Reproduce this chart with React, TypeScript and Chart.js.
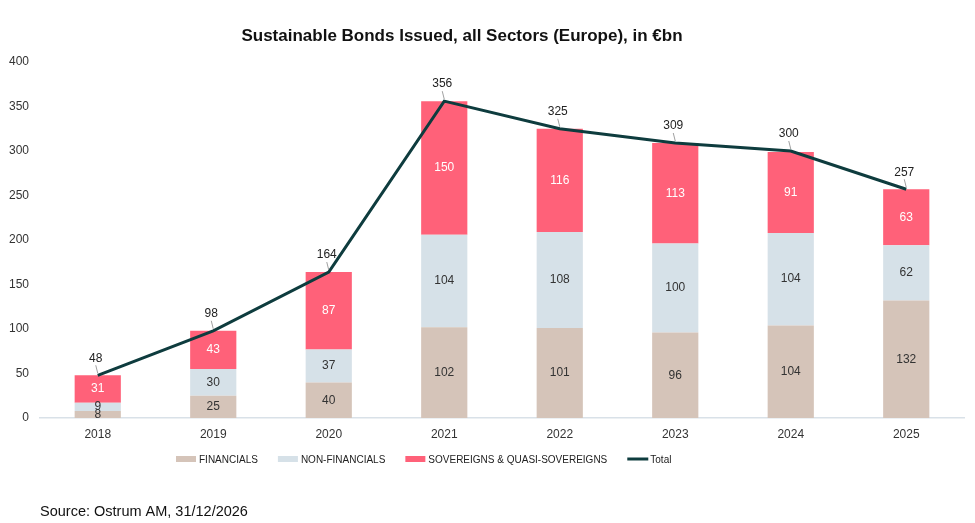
import React, { useEffect, useRef } from "react";
import { Chart, registerables } from "chart.js";

Chart.register(...registerables);

const years = ["2018", "2019", "2020", "2021", "2022", "2023", "2024", "2025"];
const financials = [8, 25, 40, 102, 101, 96, 104, 132];
const nonFinancials = [9, 30, 37, 104, 108, 100, 104, 62];
const sovereigns = [31, 43, 87, 150, 116, 113, 91, 63];
const totals = [48, 98, 164, 356, 325, 309, 300, 257];
const yTicks = [0, 50, 100, 150, 200, 250, 300, 350, 400];

const titleText = "Sustainable Bonds Issued, all Sectors (Europe), in €bn";
const sourceText = "Source: Ostrum AM, 31/12/2026";

const FONT = "'Liberation Sans', Arial, sans-serif";
const C_FIN = "#d5c4b9";
const C_NONFIN = "#d6e1e8";
const C_SOV = "#ff6179";
const C_TOTAL = "#0e3c3e";

const decorPlugin = {
  id: "decor",
  afterDatasetsDraw(chart: any) {
    const ctx = chart.ctx;
    ctx.save();
    // values inside the stacked segments
    ctx.font = `12px ${FONT}`;
    ctx.textAlign = "center";
    ctx.textBaseline = "middle";
    [0, 1, 2].forEach((di) => {
      const meta = chart.getDatasetMeta(di);
      const data = chart.data.datasets[di].data as number[];
      meta.data.forEach((bar: any, i: number) => {
        const mid = (bar.y + bar.base) / 2;
        ctx.fillStyle = di === 2 ? "#ffffff" : "#333333";
        ctx.fillText(String(data[i]), bar.x, mid);
      });
    });
    // totals above the line with short leader lines
    const lineMeta = chart.getDatasetMeta(3);
    lineMeta.data.forEach((pt: any, i: number) => {
      const ly = pt.y - 17;
      ctx.strokeStyle = "#a0a0a0";
      ctx.lineWidth = 1;
      ctx.beginPath();
      ctx.moveTo(pt.x - 2, ly + 7);
      ctx.lineTo(pt.x, pt.y - 2);
      ctx.stroke();
      ctx.fillStyle = "#222222";
      ctx.fillText(String(totals[i]), pt.x - 2, ly);
    });
    ctx.restore();
  },
  afterDraw(chart: any) {
    const ctx = chart.ctx;
    ctx.save();
    // title
    ctx.font = `bold 17px ${FONT}`;
    ctx.fillStyle = "#111111";
    ctx.textAlign = "center";
    ctx.textBaseline = "middle";
    ctx.fillText(titleText, 462, 36);

    // legend
    ctx.font = `10px ${FONT}`;
    ctx.textAlign = "left";
    let x = 176;
    const y = 459;
    chart.data.datasets.forEach((ds: any, di: number) => {
      if (di < 3) {
        ctx.fillStyle = ds.backgroundColor;
        ctx.fillRect(x, y - 3, 20, 6);
      } else {
        ctx.strokeStyle = ds.borderColor;
        ctx.lineWidth = 3;
        ctx.beginPath();
        ctx.moveTo(x, y);
        ctx.lineTo(x + 21, y);
        ctx.stroke();
      }
      x += 23;
      ctx.fillStyle = "#222222";
      ctx.fillText(ds.label, x, y + 1);
      x += ctx.measureText(ds.label).width + 20;
    });

    // source note
    ctx.font = `14.5px ${FONT}`;
    ctx.fillStyle = "#111111";
    ctx.fillText(sourceText, 40, 512);
    ctx.restore();
  },
};

export default function App() {
  const canvasRef = useRef<HTMLCanvasElement>(null);

  useEffect(() => {
    if (!canvasRef.current) return;
    const chart = new Chart(canvasRef.current, {
      type: "bar",
      data: {
        labels: years,
        datasets: [
          { label: "FINANCIALS", data: financials, backgroundColor: C_FIN, stack: "s", order: 2 },
          { label: "NON-FINANCIALS", data: nonFinancials, backgroundColor: C_NONFIN, stack: "s", order: 2 },
          { label: "SOVEREIGNS & QUASI-SOVEREIGNS", data: sovereigns, backgroundColor: C_SOV, stack: "s", order: 2 },
          {
            type: "line",
            label: "Total",
            data: totals,
            borderColor: C_TOTAL,
            backgroundColor: C_TOTAL,
            borderWidth: 3,
            pointRadius: 0,
            tension: 0,
            stack: "total",
            order: 1,
          } as any,
        ],
      },
      options: {
        animation: false,
        responsive: true,
        maintainAspectRatio: false,
        layout: { padding: { top: 62, bottom: 75, left: 0, right: 11 } },
        datasets: { bar: { barPercentage: 0.8, categoryPercentage: 0.5 } },
        plugins: {
          legend: { display: false },
          title: { display: false },
          tooltip: { enabled: false },
        },
        scales: {
          x: {
            stacked: true,
            grid: { display: false, drawTicks: false },
            border: { color: "#d9e1e8", width: 1.5 },
            ticks: { font: { size: 12, family: FONT }, color: "#333333", padding: 9 },
            afterFit: (s: any) => {
              s.height = 30;
            },
          },
          y: {
            stacked: true,
            min: 0,
            max: 400,
            grid: { display: false, drawTicks: false },
            border: { display: false },
            afterBuildTicks: (s: any) => {
              s.ticks = yTicks.map((v) => ({ value: v }));
            },
            ticks: { font: { size: 12, family: FONT }, color: "#333333", padding: 11 },
            afterFit: (s: any) => {
              s.width = 40;
            },
          },
        },
      },
      plugins: [decorPlugin],
    });
    return () => chart.destroy();
  }, []);

  return (
    <div style={{ position: "absolute", left: 0, top: 0, width: 975, height: 523, background: "#ffffff" }}>
      <canvas ref={canvasRef} />
    </div>
  );
}
